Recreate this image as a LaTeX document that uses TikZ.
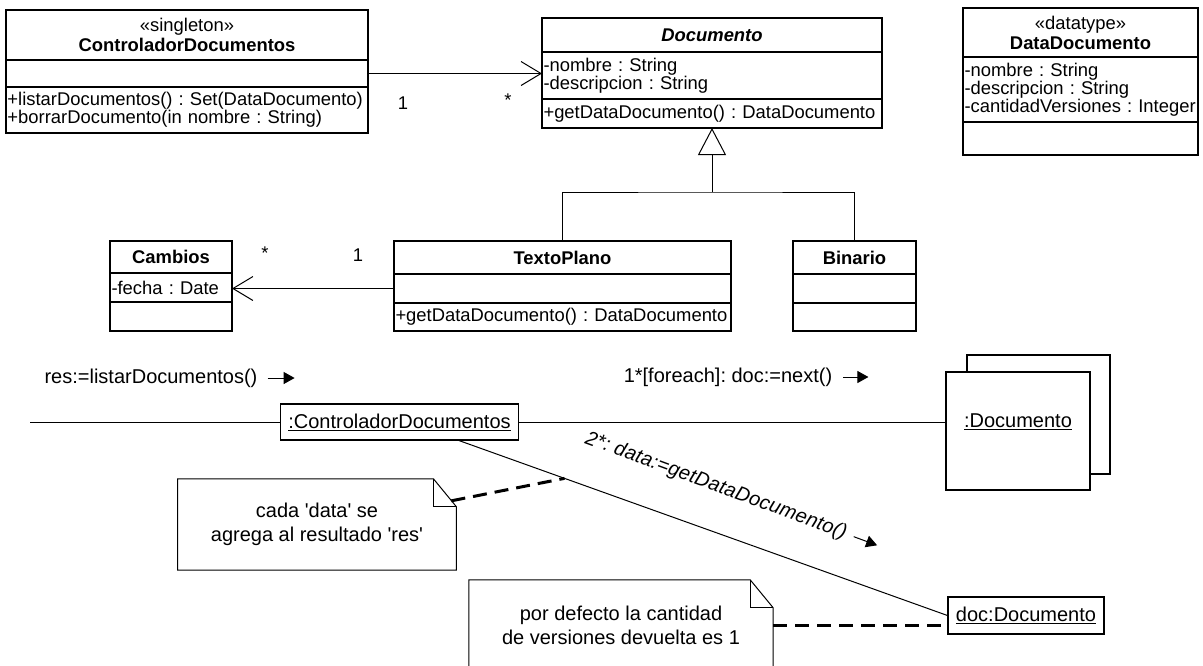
\documentclass[tikz,border=0pt]{standalone}
\usepackage{fontspec}
\setsansfont{Liberation Sans}
\usepackage{tikz}
\usetikzlibrary{arrows.meta,positioning,calc}
\frenchspacing
\hyphenpenalty=10000
\newcommand{\clsfont}{\sffamily\fontsize{18.4pt}{18pt}\selectfont}
\newcommand{\objfont}{\sffamily\fontsize{20pt}{24pt}\selectfont}
\newcommand{\sq}{\textquotesingle}
\newcommand{\notefold}[1]{%
  \draw[line width=1pt] (#1.south west) -- (#1.north west) -- ([xshift=-23pt]#1.north east)
    -- ([yshift=-28pt]#1.north east) -- (#1.south east) -- cycle;
  \draw[line width=1pt] ([xshift=-23pt]#1.north east) |- ([yshift=-28pt]#1.north east);}
\tikzset{
  every node/.style={font=\clsfont},
  cmp/.style={draw,line width=1.1pt,inner xsep=1.5pt,inner ysep=0pt,outer sep=0pt,align=left},
  hd/.style={cmp,align=center},
  assoc/.style={-{Straight Barb[length=20pt,width=24pt]},line width=1pt},
  gen/.style={-{Triangle[open,length=27pt,width=28pt]},line width=1pt},
  obj/.style={draw,line width=1.1pt,inner sep=0pt,fill=white,font=\objfont},
  note/.style={inner sep=0pt,align=center,font=\objfont},
  msg/.style={font=\objfont,inner sep=0pt},
  msgar/.style={-{Triangle[length=11pt,width=12pt]},line width=1pt},
  ndash/.style={line width=3pt,dash pattern=on 14pt off 8pt},
  mult/.style={font=\clsfont,inner sep=0pt},
}

\begin{document}
\begin{tikzpicture}[x=1pt,y=1pt]
\useasboundingbox (0,0) rectangle (1203,-665);

% ---- class diagram ----
\node[hd,text width=359pt,minimum height=50pt,anchor=north] (ctrlH) at (187,-10)
  {«singleton»\\[2pt]\textbf{ControladorDocumentos}};
\node[cmp,text width=359pt,minimum height=27pt,below=0pt of ctrlH] (ctrlA) {};
\node[cmp,text width=359pt,minimum height=46pt,below=0pt of ctrlA] (ctrlM)
  {+listarDocumentos() : Set(DataDocumento)\\+borrarDocumento(in nombre : String)};

\node[hd,text width=337pt,minimum height=34pt,anchor=north] (docH) at (712,-18)
  {\textbf{\textit{Documento}}};
\node[cmp,text width=337pt,minimum height=47pt,below=0pt of docH] (docA)
  {-nombre : String\\-descripcion : String};
\node[cmp,text width=337pt,minimum height=29pt,below=0pt of docA] (docM)
  {+getDataDocumento() : DataDocumento};

\node[hd,text width=232pt,minimum height=49pt,anchor=north] (dataH) at (1080.5,-8)
  {«datatype»\\[2pt]\textbf{DataDocumento}};
\node[cmp,text width=232pt,minimum height=65pt,below=0pt of dataH] (dataA)
  {-nombre : String\\-descripcion : String\\-cantidadVersiones : Integer};
\node[cmp,text width=232pt,minimum height=33pt,below=0pt of dataA] (dataM) {};

\node[hd,text width=119pt,minimum height=32pt,anchor=north] (camH) at (171,-241)
  {\textbf{Cambios}};
\node[cmp,text width=119pt,minimum height=29pt,below=0pt of camH] (camA) {-fecha : Date};
\node[cmp,text width=119pt,minimum height=29pt,below=0pt of camA] (camM) {};

\node[hd,text width=334pt,minimum height=33pt,anchor=north] (tpH) at (562.5,-241)
  {\textbf{TextoPlano}};
\node[cmp,text width=334pt,minimum height=29pt,below=0pt of tpH] (tpA) {};
\node[cmp,text width=334pt,minimum height=28pt,below=0pt of tpA] (tpM)
  {+getDataDocumento() : DataDocumento};

\node[hd,text width=120pt,minimum height=33pt,anchor=north] (binH) at (854.5,-241)
  {\textbf{Binario}};
\node[cmp,text width=120pt,minimum height=29pt,below=0pt of binH] (binA) {};
\node[cmp,text width=120pt,minimum height=28pt,below=0pt of binA] (binM) {};

\draw[assoc] (ctrlA.east) -- (ctrlA.east -| docA.west);
\node[mult] (mc1) at (403,-103) {1};
\node[mult] (mc2) at (508,-100) {*};

\coordinate (gj) at (712,-192);
\draw[line width=1pt] (tpH.north) |- (gj) -| (binH.north);
\draw[gen] (gj) -- (docM.south);

\draw[assoc] (tpA.west) -- (tpA.west -| camA.east);
\node[mult] (mt1) at (265,-253) {*};
\node[mult] (mt2) at (358,-255) {1};

% ---- collaboration ----
\coordinate (lstart) at (30,-422);
\node[obj,minimum width=238pt,minimum height=36pt] (octrl) at (399.5,-422)
  {\underline{:ControladorDocumentos}};
\node[obj,minimum width=143pt,minimum height=119pt] (odocB) at (1038.5,-414.5) {};
\node[obj,minimum width=144pt,minimum height=118pt] (odoc) at (1018,-431) {};
\node[msg] (odocT) at (1018,-422) {\underline{:Documento}};
\node[obj,minimum width=156pt,minimum height=37pt] (obj2) at (1026,-615.5)
  {\underline{doc:Documento}};

\draw[line width=1pt] (lstart) -- (octrl.west);
\draw[line width=1pt] (octrl.east) -- (octrl.east -| odoc.west);
\coordinate (dg) at ([xshift=59.5pt]octrl.south);
\draw[line width=1pt] (dg) -- (obj2.west);

\node[msg] (m0) at (151,-378) {res:=listarDocumentos()};
\draw[msgar] ([xshift=10pt]m0.east) -- ++(27,0);
\node[msg] (m1) at (728,-377) {1*[foreach]: doc:=next()};
\draw[msgar] ([xshift=11pt]m1.east) -- ++(25,0);
\node[msg,rotate=-20.2,font=\objfont\itshape\addfontfeature{LetterSpace=1}] (m2) at (716,-486)
  {2*: data:=getDataDocumento()};
\draw[msgar] ([shift={(-20.2:8)}]m2.east) -- ++(-20.2:25);

% ---- notes ----
\node[note,minimum width=278.5pt,minimum height=91pt] (n1) at (317,-524.5)
  {cada \sq data\sq{} se\\agrega al resultado \sq res\sq};
\notefold{n1}
\draw[ndash] ($(n1.north east)+(-5,-22)$) -- ($(dg)!0.216!(obj2.west)$);

\node[note,minimum width=304pt,minimum height=90pt] (n2) at (621,-625)
  {por defecto la cantidad\\de versiones devuelta es 1};
\notefold{n2}
\draw[ndash] (n2.east) -- (n2.east -| obj2.west);

\end{tikzpicture}
\end{document}
